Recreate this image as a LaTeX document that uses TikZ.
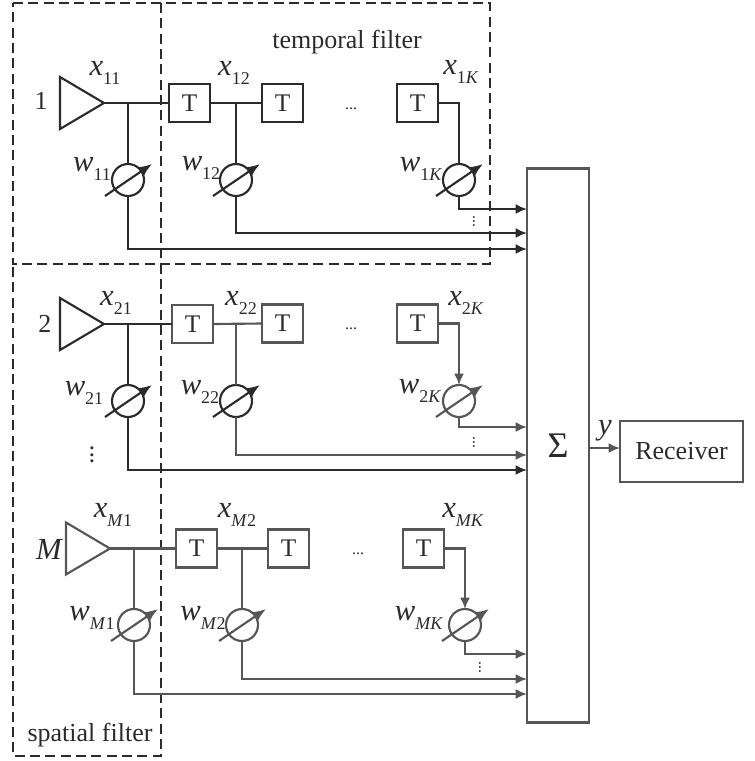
\documentclass[tikz,border=0pt]{standalone}
\usepackage{fontspec}
\setmainfont{Liberation Serif}
\usetikzlibrary{arrows.meta,shapes.geometric}
\definecolor{dk}{HTML}{2B2B2B}
\definecolor{gr}{HTML}{565656}
\newcommand{\lab}[2]{{\fontsize{23}{23}\selectfont\itshape #1}\raisebox{-0.32em}{\fontsize{13.5}{14}\selectfont #2}}
\newcommand{\wt}[4]{%
  \node[wcirc,draw=#4] (#1) at (#2,#3) {};
  \draw[slash,draw=#4,fill=#4] ([shift={(-23,16)}]#1.center) -- ([shift={(24,-16)}]#1.center);
}
\tikzset{
  x=0.75pt,y=-0.75pt,
  lw/.style={line width=1.6pt,line cap=butt,line join=miter},
  tbox/.style={lw,draw,minimum width=30.75pt,minimum height=28.5pt,inner sep=0pt,outer sep=0pt,font=\fontsize{19}{19}\selectfont,text=dk,fill=white},
  wcirc/.style={lw,circle,minimum size=24pt,inner sep=0pt,outer sep=0pt},
  slash/.style={line width=1.6pt,-{Latex[length=10pt,width=8pt]}},
  amp/.style={lw,draw,shape=isosceles triangle,isosceles triangle apex angle=60,isosceles triangle stretches,minimum width=39pt,minimum height=33pt,inner sep=0pt,outer sep=0pt,anchor=lower side},
  wire/.style={lw},
  arr/.style={lw,-{Latex[length=8.5pt,width=7.5pt]}},
  txt/.style={inner sep=0pt,outer sep=0pt,text=dk,font=\fontsize{19.5}{20}\selectfont},
  dots/.style={inner sep=0pt,outer sep=0pt,text=dk,font=\fontsize{12}{12}\selectfont},
  frame/.style={line width=1.2pt,draw=dk,dash pattern=on 7.5pt off 4pt},
}
\begin{document}
\begin{tikzpicture}
\useasboundingbox (0,0) rectangle (755,761);
% filter frames
\draw[frame] (13,3) -- (490,3) -- (490,264) -- (13,264) -- cycle;
\draw[frame] (161,3) -- (161,756) -- (13,756) -- (13,264);
\node[txt] (tf) at (347,42) {temporal filter};
\node[txt] (sf) at (90,735) {spatial filter};
% summer and receiver
\node[lw,draw=gr,minimum width=46.5pt,minimum height=415.5pt,inner sep=0pt,outer sep=0pt] (sum) at (558,445.5) {};
\node[inner sep=0pt,text=dk,font=\fontsize{27}{27}\selectfont] (sig) at (558,446) {Σ};
\node[lw,draw=gr,minimum width=92.25pt,minimum height=45.75pt,inner sep=0pt,outer sep=0pt,txt] (rx) at (681.5,451.5) {Receiver};
\coordinate (yout) at (589,448);
\draw[arr,draw=gr,fill=gr] (yout) -- (rx.west |- yout);
\node[txt,font=\fontsize{23}{23}\selectfont\itshape] (ylab) at (605,431) {y};
% levels of the arrows into the summer
\coordinate (a11) at (0,209); \coordinate (a12) at (0,233); \coordinate (a13) at (0,249);
\coordinate (a21) at (0,427); \coordinate (a22) at (0,455); \coordinate (a23) at (0,470);
\coordinate (a31) at (0,654); \coordinate (a32) at (0,679); \coordinate (a33) at (0,694);

% ---- row 1
\begin{scope}[dk]
\node[amp] (A1) at (60,103) {};
\node[tbox] (T11) at (189.5,103) {T};
\node[tbox] (T12) at (282.5,103) {T};
\node[tbox] (T13) at (417.5,103) {T};
\wt{W11}{128}{180}{dk}
\wt{W12}{236}{180}{dk}
\wt{W13}{459}{180}{dk}
\coordinate (J11) at (128,103);
\coordinate (J12) at (236,103);
\draw[wire] (A1.apex) -- (T11.west);
\draw[wire] (T11.east) -- (T12.west);
\draw[wire] (J11) -- (W11.north);
\draw[wire] (J12) -- (W12.north);
\draw[wire] (T13.east) -| (W13.north);
\draw[arr] (W13.south) |- (sum.west |- a11);
\draw[arr] (W12.south) |- (sum.west |- a12);
\draw[arr] (W11.south) |- (sum.west |- a13);
\end{scope}
% ---- row 2
\node[amp,dk] (A2) at (60,324) {};
\begin{scope}[gr]
\node[tbox] (T21) at (192.5,324) {T};
\node[tbox] (T22) at (282.5,323.5) {T};
\node[tbox] (T23) at (417.5,323.5) {T};
\wt{W23}{459}{401}{gr}
\coordinate (J22) at (236,324);
\draw[wire] (T21.east) -- (T22.west);
\end{scope}
\wt{W21}{128}{401}{dk}
\wt{W22}{236}{401}{dk}
\coordinate (J21) at (128,324);
\draw[wire,dk] (A2.apex) -- (T21.west);
\draw[wire,dk] (J21) -- (W21.north);
\draw[wire,gr] (J22) -- (W22.north);
\draw[arr,gr] (T23.east) -| (W23.north);
\draw[arr,gr] (W23.south) |- (sum.west |- a21);
\draw[arr,gr] (W22.south) |- (sum.west |- a22);
\draw[arr,dk] (W21.south) |- (sum.west |- a23);
% ---- row 3
\begin{scope}[gr]
\node[amp] (A3) at (66,548.5) {};
\node[tbox] (T31) at (196.5,548.5) {T};
\node[tbox] (T32) at (288.5,548.5) {T};
\node[tbox] (T33) at (423.5,548.5) {T};
\wt{W31}{134}{625}{gr}
\wt{W32}{242}{625}{gr}
\wt{W33}{465}{625}{gr}
\coordinate (J31) at (134,548.5);
\coordinate (J32) at (242,548.5);
\draw[wire] (A3.apex) -- (T31.west);
\draw[wire] (T31.east) -- (T32.west);
\draw[wire] (J31) -- (W31.north);
\draw[wire] (J32) -- (W32.north);
\draw[arr] (T33.east) -| (W33.north);
\draw[arr] (W33.south) |- (sum.west |- a31);
\draw[arr] (W32.south) |- (sum.west |- a32);
\draw[arr] (W31.south) |- (sum.west |- a33);
\end{scope}
% ---- labels
\node[txt] (n1) at (41,101) {1};
\node[txt] (n2) at (45,324) {2};
\node[txt,font=\fontsize{23}{23}\selectfont\itshape] (nM) at (49,549) {M};
\node[txt] (x11) at (105,73) {\lab{x}{11}};
\node[txt] (x12) at (234,73) {\lab{x}{12}};
\node[txt] (x1K) at (461,72) {\lab{x}{1\textit{K}}};
\node[txt] (w11) at (92,169) {\lab{w}{11}};
\node[txt] (w12) at (201,168) {\lab{w}{12}};
\node[txt] (w1K) at (421,169) {\lab{w}{1\textit{K}}};
\node[txt] (x21) at (116,303) {\lab{x}{21}};
\node[txt] (x22) at (241,303) {\lab{x}{22}};
\node[txt] (x2K) at (466,303) {\lab{x}{2\textit{K}}};
\node[txt] (w21) at (84,393) {\lab{w}{21}};
\node[txt] (w22) at (200,392) {\lab{w}{22}};
\node[txt] (w2K) at (420,391) {\lab{w}{2\textit{K}}};
\node[txt] (xM1) at (113,515) {\lab{x}{\textit{M}1}};
\node[txt] (xM2) at (237,515) {\lab{x}{\textit{M}2}};
\node[txt] (xMK) at (463,515) {\lab{x}{\textit{MK}}};
\node[txt] (wM1) at (92,618) {\lab{w}{\textit{M}1}};
\node[txt] (wM2) at (203,618) {\lab{w}{\textit{M}2}};
\node[txt] (wMK) at (419,618) {\lab{w}{\textit{MK}}};
% ---- ellipses
\node[dots] (h1) at (351,109) {...};
\node[dots] (h2) at (351,329) {...};
\node[dots] (h3) at (358,554) {...};
\foreach \n/\x/\y/\s in {v1/474/221/1,v2/474/442/1,v3/480/667/1,v4/92/455/1.6}{
  \node[dots,rotate=90,scale=\s] (\n) at (\x,\y) {...};
}
\end{tikzpicture}
\end{document}
